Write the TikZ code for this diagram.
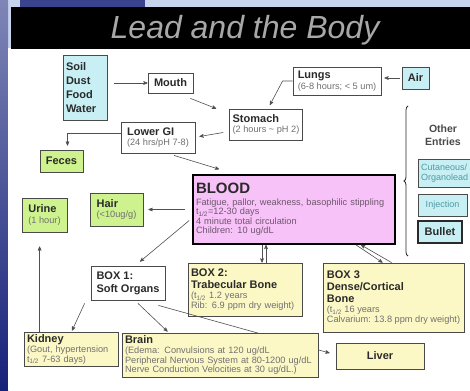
\documentclass[tikz,border=0pt]{standalone}
\usepackage{fontspec}
\setmainfont{Liberation Sans}
\usetikzlibrary{arrows,calc,decorations.pathreplacing}

\definecolor{slideblue}{HTML}{16227A}
\definecolor{slidesky}{HTML}{C6D4EE}
\definecolor{titlegray}{HTML}{A8A8A8}
\definecolor{boxline}{HTML}{4A4A4A}
\definecolor{linegray}{HTML}{505050}
\definecolor{headtext}{HTML}{2A2A2A}
\definecolor{notegray}{HTML}{707070}
\definecolor{bloodtext}{HTML}{6E566E}
\definecolor{cyanfill}{HTML}{C8EFF4}
\definecolor{greenfill}{HTML}{CDF28E}
\definecolor{pinkfill}{HTML}{F7C2F7}
\definecolor{yellowfill}{HTML}{FCF8C6}
\definecolor{tealtext}{HTML}{4F9AA4}

\newcommand{\boxtitle}[1]{{\fontsize{11}{12}\selectfont\bfseries\color{headtext}#1}}
\newcommand{\thalf}{\textsubscript{1/2}}

\tikzset{
  box/.style={draw=boxline, fill=white, line width=0.8pt, inner xsep=3pt, inner ysep=2pt,
    align=left, text=notegray, font=\fontsize{9.2}{9.5}\selectfont},
  arr/.style={->, >=stealth', line width=0.6pt, draw=linegray},
}

\begin{document}
\begin{tikzpicture}[x=1pt, y=-1pt]
\useasboundingbox (0,0) rectangle (470,390);
\clip (0,0) rectangle (470,390);
% slide background
\fill[slidesky] (0,0) rectangle (470,390);
\shade[top color=slideblue!55, bottom color=slideblue] (0,0) rectangle (8,390);
\fill[slideblue!85] (20,0) rectangle (145,7);
\fill[white] (8,48) rectangle (470,390);
\fill[black] (11,7) rectangle (470,49);
\node[anchor=base, font=\fontsize{32}{32}\selectfont\itshape, text=titlegray] (title) at (245,39) {Lead and the Body};

% intake
\node[box, fill=cyanfill, text width=38pt, minimum height=65pt, font=\fontsize{11}{14}\selectfont\bfseries, text=headtext] (soil) at (85,87.5) {Soil\\Dust\\Food\\Water};
\node[box, minimum width=45pt, minimum height=20pt] (mouth) at (170.5,83) {\boxtitle{Mouth}};
\node[box, minimum width=88pt, minimum height=28pt] (lungs) at (337,81) {\boxtitle{Lungs}\\[1pt](6-8 hours; < 5 um)};
\node[box, fill=cyanfill, minimum width=27pt, minimum height=22pt] (air) at (415.5,78) {\boxtitle{Air}};
\node[box, minimum width=72pt, minimum height=31pt] (stomach) at (266,124.5) {\boxtitle{Stomach}\\[1pt](2 hours \textasciitilde{} pH 2)};
\node[box, minimum width=74pt, minimum height=31pt] (lowergi) at (158,137.5) {\boxtitle{Lower GI}\\[1pt](24 hrs/pH 7-8)};
\node[box, fill=greenfill, minimum width=43pt, minimum height=22pt] (feces) at (61.5,161) {\boxtitle{Feces}};

% blood and exits
\node[box, fill=pinkfill, draw=black, line width=1.6pt, text width=196pt, minimum height=69pt, text=bloodtext] (blood) at (294,209.5)
  {{\fontsize{15}{16}\selectfont\bfseries\color{headtext}BLOOD}\\[2pt]Fatigue, pallor, weakness, basophilic stippling\\t\thalf=12-30 days\\4 minute total circulation\\Children: 10 ug/dL};
\node[box, fill=greenfill, minimum width=53pt, minimum height=33pt] (hair) at (116.5,209.5) {\boxtitle{Hair}\\[1pt](<10ug/g)};
\node[box, fill=greenfill, minimum width=45pt, minimum height=34pt] (urine) at (44.5,215) {\boxtitle{Urine}\\[1pt](1 hour)};

% stores
\node[box, minimum width=74pt, minimum height=34pt] (box1) at (128,283) {\boxtitle{BOX 1:}\\[3.5pt]\boxtitle{Soft Organs}};
\node[box, fill=yellowfill, text width=108pt, minimum height=53pt] (box2) at (245,289.5)
  {\boxtitle{BOX 2:}\\[2.5pt]\boxtitle{Trabecular Bone}\\[1pt](t\thalf{} 1.2 years\\Rib: 6.9 ppm dry weight)};
\node[box, fill=yellowfill, minimum width=141pt, minimum height=69pt] (box3) at (393.5,297.5)
  {\boxtitle{BOX 3}\\[2.5pt]\boxtitle{Dense/Cortical}\\[2.5pt]\boxtitle{Bone}\\[1pt](t\thalf{} 16 years\\Calvarium: 13.8 ppm dry weight)};
\node[box, fill=yellowfill, text width=88pt, minimum height=32pt] (kidney) at (71,349) {\boxtitle{Kidney}\\[1pt](Gout, hypertension\\t\thalf{} 7-63 days)};
\node[box, fill=yellowfill, minimum width=88pt, minimum height=26pt] (liver) at (380,356) {\boxtitle{Liver}};

% other entries
\node[font=\fontsize{10.5}{13}\selectfont\bfseries, text=headtext!85, align=center] (other) at (443,135) {Other\\Entries};
\node[box, fill=cyanfill, text width=56pt, minimum height=28pt, text=tealtext, font=\fontsize{9}{10}\selectfont] (cutan) at (449,173) {Cutaneous/\\Organolead};
\node[box, fill=cyanfill, minimum width=49pt, minimum height=22pt, text=tealtext, font=\fontsize{9}{10}\selectfont] (inject) at (442.5,205) {Injection};
\node[box, fill=cyanfill, draw=headtext, line width=1.5pt, minimum width=44pt, minimum height=22pt] (bullet) at (440,232) {\boxtitle{Bullet}};
\draw[decorate, decoration={brace, amplitude=4pt}, line width=0.8pt, draw=headtext] (408,256) -- (408,106);

% soft organs to liver runs under the brain box
\draw[arr] ($(box1.south east)+(-7,5)$) -- ($(liver.west)+(-6,-3)$);
\node[box, fill=yellowfill, text width=190pt, minimum height=44pt] (brain) at (220,355)
  {\boxtitle{Brain}\\[1pt](Edema: Convulsions at 120 ug/dL\\Peripheral Nervous System at 80-1200 ug/dL\\Nerve Conduction Velocities at 30 ug/dL.)};

% connectors
\draw[arr, shorten <=7pt] (soil.east |- mouth.west) -- (mouth.west);
\draw[arr] ($(mouth.south east)+(-3,5)$) -- ($(stomach.north west)+(-13,0)$);
\draw[arr, shorten >=4pt] (lungs.west) -- ++(-10,0) -- ($(stomach.north)+(2,0)$);
\draw[arr, shorten <=2pt, shorten >=3pt] (air.west) -- (air.west -| lungs.east);
\draw[arr] ($(stomach.west)+(-6,8)$) -- ($(lowergi.east)+(4,-1)$);
\draw[arr] ($(lowergi.west)+(0,-4)$) -| ($(feces.north)+(6,-4)$);
\draw[arr] ($(lowergi.south)+(16,2)$) -- ($(blood.north west)+(27,-5)$);
\draw[arr, shorten <=7pt, shorten >=5pt] (blood.west) -- (hair.east);
\draw[arr] ($(blood.west)+(-3,11)$) -- ($(box1.north)+(12,-4)$);
\draw[arr] ($(blood.south)+(-32,0)$) -- ($(box2.north)+(17,0)$);
\draw[arr] ($(box2.north)+(21,0)$) -- ($(blood.south)+(-28,0)$);
\draw[arr] ($(blood.south east)+(-40,0)$) -- ($(box3.north west)+(60,0)$);
\draw[arr] ($(box3.north west)+(69,0)$) -- ($(blood.south east)+(-35,0)$);
\draw[arr] ($(box1.south west)+(-6,3)$) -- ($(kidney.north)+(1,-1)$);
\draw[arr] ($(box1.south)+(10,3)$) -- ($(brain.north west)+(46,-1)$);
\coordinate (kup) at ($(kidney.north west)+(16,0)$);
\draw[arr, shorten >=14pt] (kup) -- (kup |- urine.south);
\end{tikzpicture}
\end{document}
